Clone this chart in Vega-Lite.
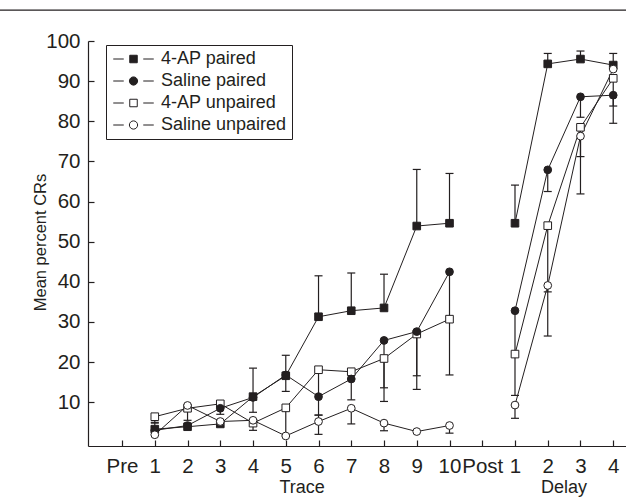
{
  "$schema": "https://vega.github.io/schema/vega-lite/v6.json",
  "width": 538,
  "height": 405,
  "autosize": "none",
  "padding": {"left": 88, "top": 41, "right": 0, "bottom": 53},
  "background": "white",
  "config": {
    "view": {"stroke": null},
    "font": "Liberation Sans",
    "axis": {"domainColor": "#231f20", "tickColor": "#231f20", "labelColor": "#231f20", "titleColor": "#231f20", "grid": false, "domainWidth": 1.2, "tickWidth": 1.2, "labelFont": "Liberation Sans", "titleFont": "Liberation Sans", "labelFontSize": 20.5, "titleFontSize": 16.5, "titleFontWeight": "normal", "labelOverlap": false},
    "legend": {"title": null, "orient": "none", "legendX": 18, "legendY": 4, "strokeColor": "#231f20", "padding": 5, "labelFontSize": 18, "labelFont": "Liberation Sans", "labelColor": "#231f20", "symbolSize": 225, "symbolStrokeWidth": 1, "symbolOpacity": 1, "rowPadding": 4, "labelOffset": 32, "labelLimit": 300}
  },
  "datasets": {
    "points": [
      {"series": "4-AP paired", "phase": "Trace", "idx": 1, "v": 3.3, "hi": 5.0},
      {"series": "4-AP paired", "phase": "Trace", "idx": 2, "v": 3.9},
      {"series": "4-AP paired", "phase": "Trace", "idx": 3, "v": 4.6},
      {"series": "4-AP paired", "phase": "Trace", "idx": 4, "v": 11.4, "hi": 18.5},
      {"series": "4-AP paired", "phase": "Trace", "idx": 5, "v": 16.6, "hi": 21.7},
      {"series": "4-AP paired", "phase": "Trace", "idx": 6, "v": 31.3, "hi": 41.5},
      {"series": "4-AP paired", "phase": "Trace", "idx": 7, "v": 32.8, "hi": 42.2},
      {"series": "4-AP paired", "phase": "Trace", "idx": 8, "v": 33.5, "hi": 41.9},
      {"series": "4-AP paired", "phase": "Trace", "idx": 9, "v": 53.9, "hi": 68.0},
      {"series": "4-AP paired", "phase": "Trace", "idx": 10, "v": 54.6, "hi": 67.0},
      {"series": "4-AP paired", "phase": "Delay", "idx": 12, "v": 54.6, "hi": 64.1},
      {"series": "4-AP paired", "phase": "Delay", "idx": 13, "v": 94.3, "hi": 96.9},
      {"series": "4-AP paired", "phase": "Delay", "idx": 14, "v": 95.5, "hi": 97.5},
      {"series": "4-AP paired", "phase": "Delay", "idx": 15, "v": 94.0, "hi": 96.9},

      {"series": "Saline paired", "phase": "Trace", "idx": 1, "v": 3.0},
      {"series": "Saline paired", "phase": "Trace", "idx": 2, "v": 4.2},
      {"series": "Saline paired", "phase": "Trace", "idx": 3, "v": 8.5, "lo": 7.0},
      {"series": "Saline paired", "phase": "Trace", "idx": 4, "v": 11.2, "lo": 7.5},
      {"series": "Saline paired", "phase": "Trace", "idx": 5, "v": 16.8, "lo": 12.7},
      {"series": "Saline paired", "phase": "Trace", "idx": 6, "v": 11.4},
      {"series": "Saline paired", "phase": "Trace", "idx": 7, "v": 15.8, "lo": 10.6},
      {"series": "Saline paired", "phase": "Trace", "idx": 8, "v": 25.4, "lo": 10.2},
      {"series": "Saline paired", "phase": "Trace", "idx": 9, "v": 27.6, "lo": 16.6},
      {"series": "Saline paired", "phase": "Trace", "idx": 10, "v": 42.5, "lo": 16.8},
      {"series": "Saline paired", "phase": "Delay", "idx": 12, "v": 32.8, "lo": 11.7},
      {"series": "Saline paired", "phase": "Delay", "idx": 13, "v": 67.9, "lo": 62.5},
      {"series": "Saline paired", "phase": "Delay", "idx": 14, "v": 86.1, "lo": 81.0},
      {"series": "Saline paired", "phase": "Delay", "idx": 15, "v": 86.5, "lo": 79.5},

      {"series": "4-AP unpaired", "phase": "Trace", "idx": 1, "v": 6.4, "lo": 4.8},
      {"series": "4-AP unpaired", "phase": "Trace", "idx": 2, "v": 8.5, "lo": 5.5},
      {"series": "4-AP unpaired", "phase": "Trace", "idx": 3, "v": 9.6},
      {"series": "4-AP unpaired", "phase": "Trace", "idx": 4, "v": 4.8, "lo": 3.0},
      {"series": "4-AP unpaired", "phase": "Trace", "idx": 5, "v": 8.6, "lo": 1.6},
      {"series": "4-AP unpaired", "phase": "Trace", "idx": 6, "v": 18.1, "lo": 6.8},
      {"series": "4-AP unpaired", "phase": "Trace", "idx": 7, "v": 17.6},
      {"series": "4-AP unpaired", "phase": "Trace", "idx": 8, "v": 20.9, "lo": 13.6},
      {"series": "4-AP unpaired", "phase": "Trace", "idx": 9, "v": 27.0, "lo": 13.2},
      {"series": "4-AP unpaired", "phase": "Trace", "idx": 10, "v": 30.7},
      {"series": "4-AP unpaired", "phase": "Delay", "idx": 12, "v": 22.0},
      {"series": "4-AP unpaired", "phase": "Delay", "idx": 13, "v": 54.0, "lo": 37.5},
      {"series": "4-AP unpaired", "phase": "Delay", "idx": 14, "v": 78.5, "lo": 71.2},
      {"series": "4-AP unpaired", "phase": "Delay", "idx": 15, "v": 90.7, "lo": 83.8},

      {"series": "Saline unpaired", "phase": "Trace", "idx": 1, "v": 1.9},
      {"series": "Saline unpaired", "phase": "Trace", "idx": 2, "v": 9.2},
      {"series": "Saline unpaired", "phase": "Trace", "idx": 3, "v": 5.2},
      {"series": "Saline unpaired", "phase": "Trace", "idx": 4, "v": 5.5},
      {"series": "Saline unpaired", "phase": "Trace", "idx": 5, "v": 1.6},
      {"series": "Saline unpaired", "phase": "Trace", "idx": 6, "v": 5.2, "lo": 2.0, "hi": 6.8},
      {"series": "Saline unpaired", "phase": "Trace", "idx": 7, "v": 8.5, "lo": 4.6},
      {"series": "Saline unpaired", "phase": "Trace", "idx": 8, "v": 4.8, "lo": 2.9},
      {"series": "Saline unpaired", "phase": "Trace", "idx": 9, "v": 2.7},
      {"series": "Saline unpaired", "phase": "Trace", "idx": 10, "v": 4.2, "lo": 2.3},
      {"series": "Saline unpaired", "phase": "Delay", "idx": 12, "v": 9.3, "lo": 6.0},
      {"series": "Saline unpaired", "phase": "Delay", "idx": 13, "v": 39.1, "lo": 26.5},
      {"series": "Saline unpaired", "phase": "Delay", "idx": 14, "v": 76.3, "lo": 61.9},
      {"series": "Saline unpaired", "phase": "Delay", "idx": 15, "v": 93.0}
    ],
    "groups": [
      {"idx": 5.5, "label": "Trace"},
      {"idx": 13.5, "label": "Delay"}
    ]
  },
  "layer": [
    {
      "data": {"name": "points"},
      "mark": {"type": "line", "color": "#231f20", "strokeWidth": 1},
      "encoding": {
        "x": {
          "field": "idx", "type": "quantitative",
          "scale": {"domain": [-1.04, 15.39], "nice": false, "zero": false},
          "axis": {
            "title": null,
            "values": [0, 1, 2, 3, 4, 5, 6, 7, 8, 9, 10, 11, 12, 13, 14, 15],
            "tickCount": 40,
            "labelExpr": "datum.value == 0 ? 'Pre' : datum.value <= 10 ? '' + datum.value : datum.value == 11 ? 'Post' : '' + (datum.value - 11)",
            "tickSize": -6,
            "labelPadding": 16,
            "labelBaseline": "top",
            "labelFlush": false,
            "labelOverlap": false,
            "labelSeparation": 0
          }
        },
        "y": {
          "field": "v", "type": "quantitative",
          "scale": {"domain": [-0.9, 100], "nice": false, "zero": false},
          "axis": {
            "title": "Mean percent CRs",
            "values": [10, 20, 30, 40, 50, 60, 70, 80, 90, 100],
            "tickCount": 40,
            "tickSize": -6,
            "labelPadding": 14,
            "labelOverlap": false,
            "titleX": -48,
            "titleY": 201,
            "titleAngle": -90,
            "titleAlign": "center",
            "titleBaseline": "middle"
          }
        },
        "detail": [{"field": "series"}, {"field": "phase"}],
        "order": {"field": "idx"}
      }
    },
    {
      "data": {"values": [{}]},
      "mark": {"type": "rule", "clip": false, "color": "#231f20", "strokeWidth": 1.3},
      "encoding": {
        "x": {"datum": -3.75, "type": "quantitative"},
        "x2": {"datum": 15.39},
        "y": {"datum": 107.7, "type": "quantitative"}
      }
    },
    {
      "data": {"name": "points"},
      "transform": [{"filter": "isValid(datum.lo)"}],
      "mark": {"type": "rule", "color": "#231f20", "strokeWidth": 1.2},
      "encoding": {
        "x": {"field": "idx", "type": "quantitative"},
        "y": {"field": "v", "type": "quantitative"},
        "y2": {"field": "lo"}
      }
    },
    {
      "data": {"name": "points"},
      "transform": [{"filter": "isValid(datum.hi)"}],
      "mark": {"type": "rule", "color": "#231f20", "strokeWidth": 1.2},
      "encoding": {
        "x": {"field": "idx", "type": "quantitative"},
        "y": {"field": "v", "type": "quantitative"},
        "y2": {"field": "hi"}
      }
    },
    {
      "data": {"name": "points"},
      "transform": [{"filter": "isValid(datum.lo)"}],
      "mark": {"type": "rule", "color": "#231f20", "strokeWidth": 1.2, "xOffset": -4, "x2Offset": 4},
      "encoding": {
        "x": {"field": "idx", "type": "quantitative"},
        "x2": {"field": "idx"},
        "y": {"field": "lo", "type": "quantitative"}
      }
    },
    {
      "data": {"name": "points"},
      "transform": [{"filter": "isValid(datum.hi)"}],
      "mark": {"type": "rule", "color": "#231f20", "strokeWidth": 1.2, "xOffset": -4, "x2Offset": 4},
      "encoding": {
        "x": {"field": "idx", "type": "quantitative"},
        "x2": {"field": "idx"},
        "y": {"field": "hi", "type": "quantitative"}
      }
    },
    {
      "data": {"name": "points"},
      "transform": [{"filter": "indexof(datum.series, '4-AP') >= 0"}],
      "mark": {"type": "point", "shape": "square", "filled": true, "stroke": "#231f20", "strokeWidth": 1, "size": 58, "opacity": 1},
      "encoding": {
        "x": {"field": "idx", "type": "quantitative"},
        "y": {"field": "v", "type": "quantitative"},
        "fill": {"condition": {"test": "datum.series == '4-AP paired'", "value": "#231f20"}, "value": "white"}
      }
    },
    {
      "data": {"name": "points"},
      "transform": [{"filter": "indexof(datum.series, 'Saline') >= 0"}],
      "mark": {"type": "point", "shape": "circle", "filled": true, "stroke": "#231f20", "strokeWidth": 1, "size": 60, "opacity": 1},
      "encoding": {
        "x": {"field": "idx", "type": "quantitative"},
        "y": {"field": "v", "type": "quantitative"},
        "fill": {"condition": {"test": "datum.series == 'Saline paired'", "value": "#231f20"}, "value": "white"}
      }
    },
    {
      "data": {"name": "points"},
      "transform": [{"filter": "false"}],
      "mark": {"type": "point", "filled": true, "strokeWidth": 1, "size": 225},
      "encoding": {
        "x": {"field": "idx", "type": "quantitative"},
        "y": {"field": "v", "type": "quantitative"},
        "fill": {
          "field": "series", "type": "nominal",
          "scale": {"domain": ["4-AP paired", "Saline paired", "4-AP unpaired", "Saline unpaired"], "range": ["#231f20", "#231f20", "white", "white"]}
        },
        "stroke": {
          "field": "series", "type": "nominal",
          "scale": {"domain": ["4-AP paired", "Saline paired", "4-AP unpaired", "Saline unpaired"], "range": ["#231f20", "#231f20", "#231f20", "#231f20"]}
        },
        "shape": {
          "field": "series", "type": "nominal",
          "scale": {"domain": ["4-AP paired", "Saline paired", "4-AP unpaired", "Saline unpaired"], "range": ["M-0.9,0H0.5M3.1,0H4.5M1.3,-0.5H2.3V0.5H1.3Z", "M-0.9,0H0.5M3.1,0H4.5M1.25,0A0.55,0.55,0,1,0,2.35,0A0.55,0.55,0,1,0,1.25,0Z", "M-0.9,0H0.5M3.1,0H4.5M1.3,-0.5H2.3V0.5H1.3Z", "M-0.9,0H0.5M3.1,0H4.5M1.25,0A0.55,0.55,0,1,0,2.35,0A0.55,0.55,0,1,0,1.25,0Z"]}
        }
      }
    },
    {
      "data": {"name": "groups"},
      "mark": {"type": "text", "font": "Liberation Sans", "fontSize": 18, "color": "#231f20", "baseline": "middle", "align": "center", "clip": false},
      "encoding": {
        "x": {"field": "idx", "type": "quantitative"},
        "y": {"datum": -11.3, "type": "quantitative"},
        "text": {"field": "label"}
      }
    }
  ]
}
